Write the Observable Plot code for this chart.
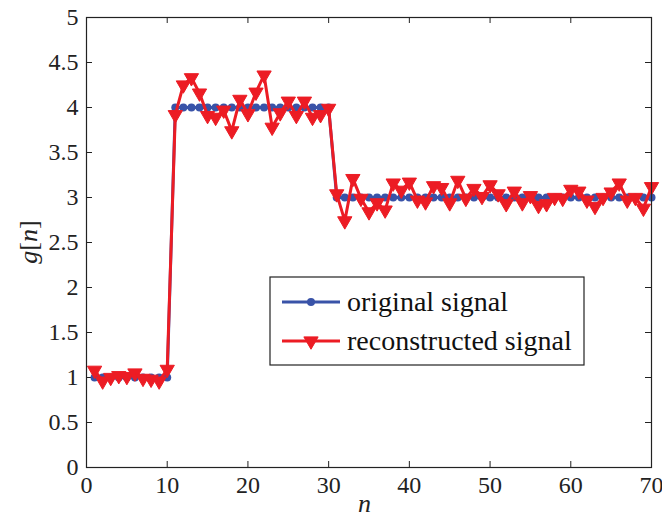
<!DOCTYPE html>
<html>
<head>
<meta charset="utf-8">
<script src="https://cdn.jsdelivr.net/npm/d3@7"></script>
<script src="https://cdn.jsdelivr.net/npm/@observablehq/plot@0.6"></script>
<style>
  html, body { margin: 0; padding: 0; background: #fff; }
  #chart svg { display: block; overflow: visible; }
  #chart svg text { font-family: 'Liberation Serif', 'Times New Roman', serif !important; }
</style>
</head>
<body>
<div id="chart"></div>
<script>
// ---- data ----
const originalSignal = [
  1,1,1,1,1,1,1,1,1,1,
  4,4,4,4,4,4,4,4,4,4,
  4,4,4,4,4,4,4,4,4,4,
  3,3,3,3,3,3,3,3,3,3,
  3,3,3,3,3,3,3,3,3,3,
  3,3,3,3,3,3,3,3,3,3,
  3,3,3,3,3,3,3,3,3,3
];
const reconstructedSignal = [
  1.08,0.96,1.00,1.02,1.01,1.05,0.99,0.98,0.96,1.09,
  3.92,4.25,4.33,4.16,3.91,3.89,3.97,3.74,4.09,3.93,
  4.17,4.36,3.78,3.94,4.07,3.91,4.07,3.89,3.92,3.99,
  3.04,2.74,3.21,2.99,2.84,2.94,2.86,3.16,3.08,3.17,
  2.97,2.95,3.13,3.11,2.94,3.19,2.99,3.10,3.01,3.14,
  3.04,2.93,3.07,2.94,3.02,2.91,2.93,3.00,2.99,3.09,
  3.07,2.97,2.90,3.00,3.06,3.16,2.97,3.00,2.88,3.12
];
const xTicks = [0,10,20,30,40,50,60,70];
const yTicks = [0,0.5,1,1.5,2,2.5,3,3.5,4,4.5,5];
const seriesNames = ["original signal", "reconstructed signal"];

const orig = originalSignal.map((v, i) => ({n: i + 1, g: v}));
const recon = reconstructedSignal.map((v, i) => ({n: i + 1, g: v}));

const BLUE = "#3953a8";
const RED = "#ec1c24";
const W = 662, H = 519;
const mL = 86, mR = 11, mT = 17, mB = 52;
const plotH = H - mT - mB, plotW = W - mL - mR;
const tk = 6;
const FONT = "'Liberation Serif', 'Times New Roman', serif";

const chart = Plot.plot({
  width: W, height: H,
  marginLeft: mL, marginRight: mR, marginTop: mT, marginBottom: mB,
  style: {fontFamily: FONT, fontSize: "24px", color: "#222", background: "#fff", overflow: "visible"},
  x: {domain: [0, 70], ticks: xTicks, label: null},
  y: {domain: [0, 5], ticks: yTicks, label: null},
  marks: [
    Plot.axisX(xTicks, {tickSize: 0, tickPadding: 8, label: null, fontSize: 24, tickFormat: d => String(d)}),
    Plot.axisY(yTicks, {tickSize: 0, tickPadding: 8, label: null, fontSize: 24, tickFormat: d => String(d)}),
    // inward ticks on all four sides
    Plot.tickX(xTicks, {x: d => d, insetTop: plotH - tk, stroke: "#222"}),
    Plot.tickX(xTicks, {x: d => d, insetBottom: plotH - tk, stroke: "#222"}),
    Plot.tickY(yTicks, {y: d => d, insetRight: plotW - tk, stroke: "#222"}),
    Plot.tickY(yTicks, {y: d => d, insetLeft: plotW - tk, stroke: "#222"}),
    Plot.line(orig, {x: "n", y: "g", stroke: BLUE, strokeWidth: 3}),
    Plot.dot(orig, {x: "n", y: "g", r: 4, fill: BLUE, stroke: "none"}),
    Plot.line(recon, {x: "n", y: "g", stroke: RED, strokeWidth: 3}),
    Plot.dot(recon, {x: "n", y: "g", symbol: "triangle", rotate: 180, r: 5.3, fill: RED, stroke: RED, strokeWidth: 1}),
    Plot.frame({stroke: "#222", strokeWidth: 1.2})
  ]
});
document.getElementById("chart").appendChild(chart);

// axis titles and legend
const svg = d3.select(chart);
svg.append("text")
  .attr("x", mL + plotW / 2 - 4).attr("y", 512)
  .attr("text-anchor", "middle")
  .style("font-size", "26px").style("font-style", "italic")
  .text("n");
const yl = svg.append("text")
  .attr("transform", `translate(37,${mT + plotH / 2}) rotate(-90)`)
  .attr("text-anchor", "middle")
  .style("font-size", "26px");
yl.append("tspan").style("font-style", "italic").text("g");
yl.append("tspan").text("[");
yl.append("tspan").style("font-style", "italic").text("n");
yl.append("tspan").text("]");

const lg = svg.append("g").attr("transform", "translate(270,277)");
lg.append("rect").attr("width", 314).attr("height", 88)
  .attr("fill", "#fff").attr("stroke", "#222").attr("stroke-width", 1.2);
const rows = [
  {name: seriesNames[0], color: BLUE, y: 25, sym: "circle"},
  {name: seriesNames[1], color: RED, y: 64, sym: "tri"}
];
rows.forEach(r => {
  lg.append("line").attr("x1", 12).attr("x2", 70).attr("y1", r.y).attr("y2", r.y)
    .attr("stroke", r.color).attr("stroke-width", 3);
  if (r.sym === "circle") {
    lg.append("circle").attr("cx", 41).attr("cy", r.y).attr("r", 4).attr("fill", r.color);
  } else {
    lg.append("path").attr("d", d3.symbol(d3.symbolTriangle, Math.PI * 5.3 * 5.3)())
      .attr("transform", `translate(41,${r.y}) rotate(180)`)
      .attr("fill", r.color).attr("stroke", r.color);
  }
  lg.append("text").attr("x", 77).attr("y", r.y).attr("dy", "0.32em")
    .attr("text-anchor", "start")
    .style("font-size", "28px").attr("fill", "#111")
    .text(r.name);
});
</script>
</body>
</html>
